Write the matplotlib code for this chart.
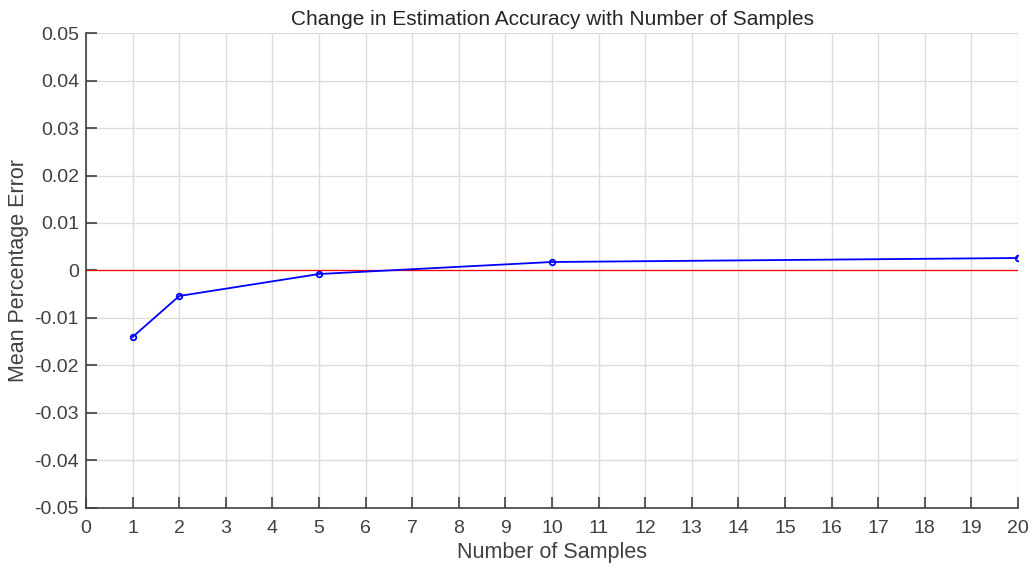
import matplotlib
matplotlib.use('Agg')
import matplotlib.pyplot as plt
import numpy as np

# samples vs mean percentage error
samples = [1, 2, 5, 10, 20]
mpe = [-0.0140, -0.00537, -0.00074, 0.00179, 0.00263]
xticks = list(range(0, 21))
yticks = [-0.05, -0.04, -0.03, -0.02, -0.01, 0, 0.01, 0.02, 0.03, 0.04, 0.05]
ylabels = ['-0.05', '-0.04', '-0.03', '-0.02', '-0.01', '0',
           '0.01', '0.02', '0.03', '0.04', '0.05']

plt.rcParams['font.family'] = ['Liberation Sans', 'DejaVu Sans']

fig = plt.figure(figsize=(10.35, 5.72), dpi=100)
ax = fig.add_axes([0.0831, 0.1119, 0.9005, 0.8304])

ax.axhline(0, color='red', lw=0.9, zorder=2)
ax.plot(samples, mpe, color='blue', lw=1.3, marker='o', ms=4,
        mfc='none', mec='blue', mew=1.3, zorder=3)

ax.set_xlim(0, 20)
ax.set_ylim(-0.05, 0.05)
ax.set_xticks(xticks)
ax.set_yticks(yticks)
ax.set_yticklabels(ylabels)
ax.grid(True, color='#dcdcdc', lw=1)
ax.set_axisbelow(True)

for s in ['top', 'right']:
    ax.spines[s].set_visible(False)
for s in ['left', 'bottom']:
    ax.spines[s].set_color('#404040')
    ax.spines[s].set_linewidth(1.2)
ax.tick_params(direction='in', length=8, width=1.2, color='#404040',
               labelsize=14, labelcolor='#404040')
ax.tick_params(axis='x', pad=9)
ax.tick_params(axis='y', pad=5)

ax.set_title('Change in Estimation Accuracy with Number of Samples',
             fontsize=15, color='#262626', pad=6)
ax.set_xlabel('Number of Samples', fontsize=15.5, color='#404040', labelpad=3)
ax.set_ylabel('Mean Percentage Error', fontsize=15.5, color='#404040', labelpad=4)

fig.savefig('out.png', dpi=100)
